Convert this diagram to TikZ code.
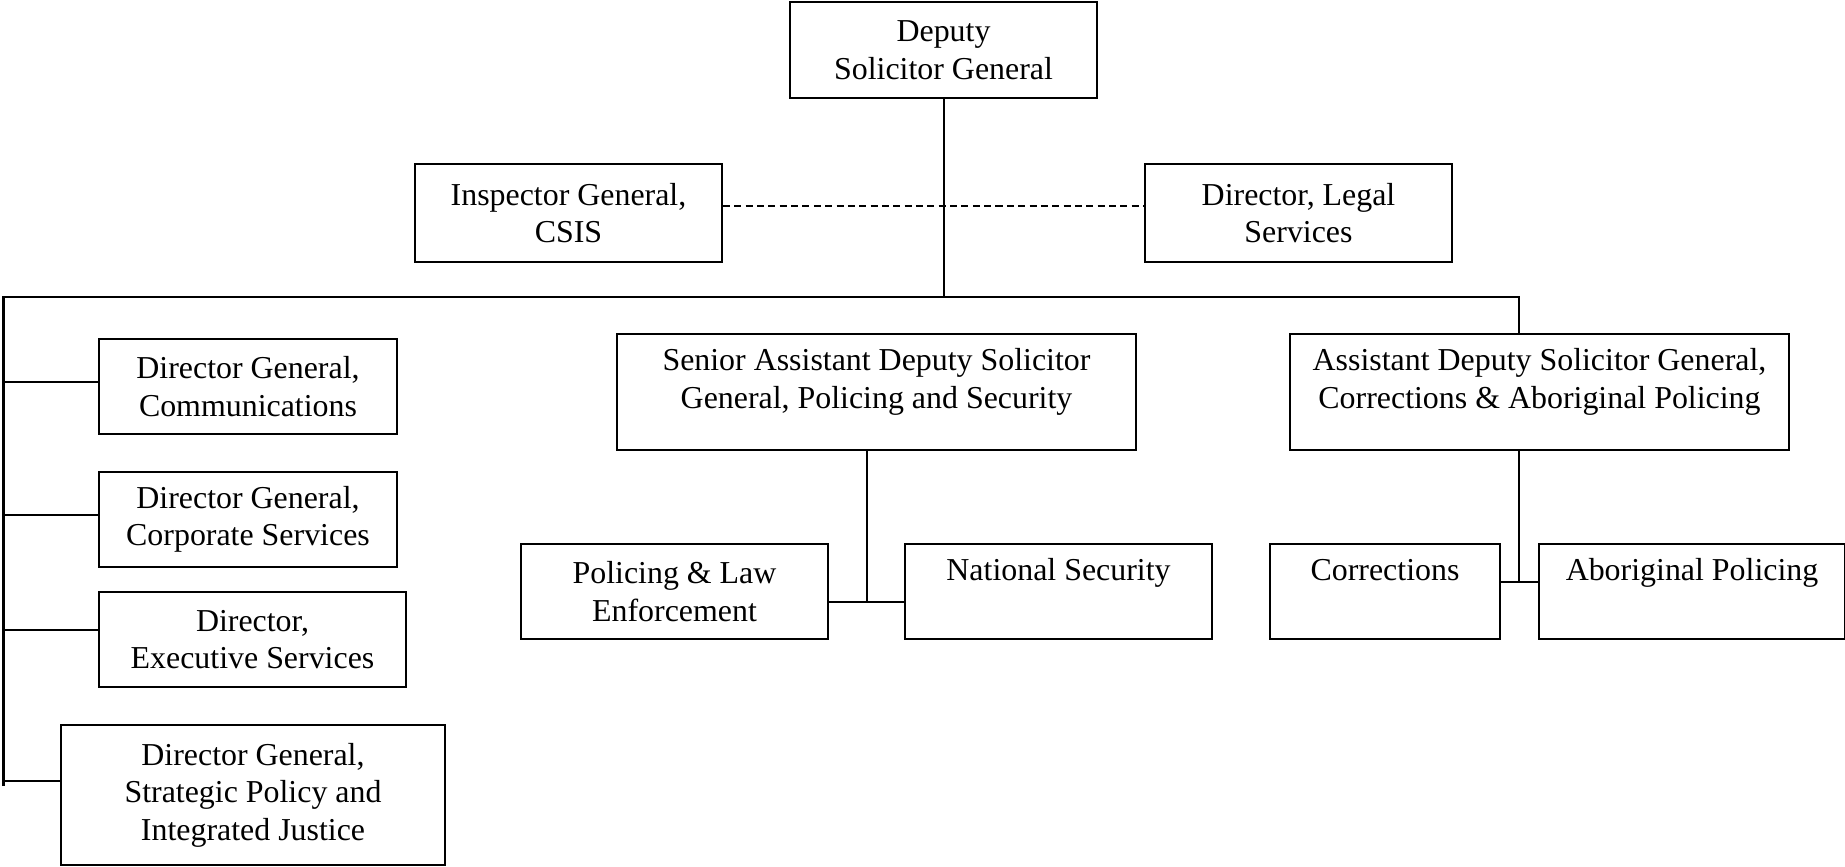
\documentclass[tikz,border=0pt]{standalone}
\usepackage{fontspec}
\setmainfont{Liberation Serif}
\usepackage{tikz}
\usetikzlibrary{calc, positioning}

\begin{document}
\begin{tikzpicture}[
    x=0.013cm, y=-0.013cm,
    every node/.style={font=\fontsize{11.8}{13.9}\selectfont},
    unit/.style={draw, line width=0.7pt, align=center, inner sep=0pt, minimum width=3.991cm, minimum height=1.235cm},
    topunit/.style={unit, inner ysep=5.4pt, text height=8.2pt, text depth=16.1pt},
    tallunit/.style={unit, inner ysep=5.4pt, text height=22.1pt, text depth=10pt},
    link/.style={line width=0.75pt},
    dotlink/.style={link, dash pattern=on 2.6pt off 1.6pt},
  ]
  \useasboundingbox (0,0) rectangle (1845,866);
  % top level
  \node[unit, minimum height=1.248cm] (dsg) at (943.5,50) {Deputy\\Solicitor General};
  \node[unit, minimum height=1.274cm] (ig) at (568.5,213) {Inspector General,\\CSIS};
  \node[unit, minimum height=1.274cm] (legal) at (1298.5,213) {Director, Legal\\Services};
  % left column
  \node[unit, minimum width=3.874cm] (comm) at (248,386.5) {Director General,\\Communications};
  \node[unit, minimum width=3.874cm] (corp) at (248,519.5) {Director General,\\Corporate Services};
  \node[unit] (exec) at (252.5,639.5) {Director,\\Executive Services};
  \node[unit, minimum width=4.992cm, minimum height=1.82cm] (strat) at (253,795) {Director General,\\Strategic Policy and\\Integrated Justice};
  % policing and security
  \node[tallunit, minimum width=6.747cm] (sadsg) at (876.5,392) {Senior Assistant Deputy Solicitor\\General, Policing and Security};
  \node[unit] (ple) at (674.5,591.5) {Policing \& Law\\Enforcement};
  \node[topunit] (natsec) at (1058.5,591.5) {National Security};
  % corrections
  \node[tallunit, minimum width=6.487cm] (adsg) at (1539.5,392) {Assistant Deputy Solicitor General,\\Corrections \& Aboriginal Policing};
  \node[topunit, minimum width=2.99cm] (corr) at (1385,591.5) {Corrections};
  \node[topunit, minimum width=3.978cm] (abor) at (1692,591.5) {Aboriginal Policing};
  % joints
  \coordinate (busL) at (3.5,297);
  \coordinate (busR) at (1519,297);
  \coordinate (trunk) at (3.5,786);
  \coordinate (pjoin) at (867,602);
  \coordinate (cjoin) at (1519,582);
  % connectors
  \draw[link] (dsg.south) -- (dsg.south |- busL);
  \draw[dotlink] ([yshift=0.09cm]ig.east) -- ([yshift=0.09cm]legal.west);
  \draw[link] (trunk) -- (busL) -- (busR) -- (busR |- adsg.north);
  \foreach \n/\d in {comm/4.5,corp/4.5,exec/9.5,strat/14}
    \draw[link] ([yshift=\d*0.013cm]\n.west -| busL) -- ([yshift=\d*0.013cm]\n.west);
  \draw[link] (pjoin |- sadsg.south) -- (pjoin);
  \draw[link] (pjoin -| ple.east) -- (pjoin -| natsec.west);
  \draw[link] (cjoin |- adsg.south) -- (cjoin);
  \draw[link] (cjoin -| corr.east) -- (cjoin -| abor.west);
\end{tikzpicture}
\end{document}
